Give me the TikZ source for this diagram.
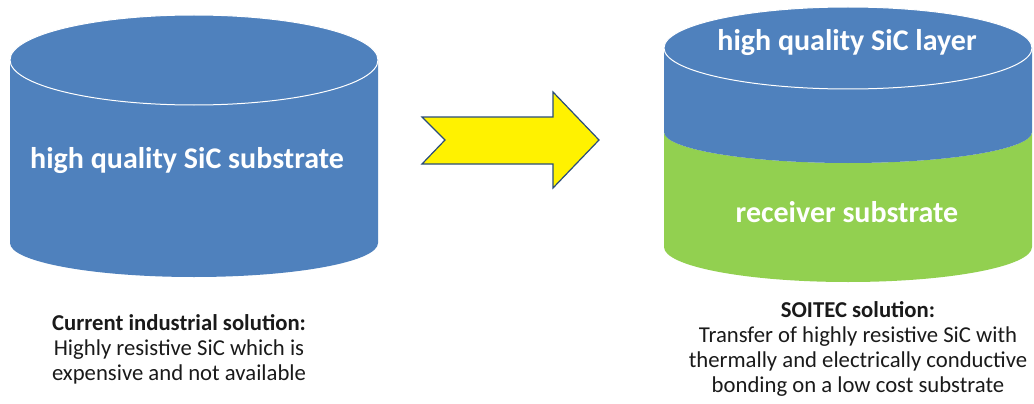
\documentclass[tikz,border=0pt]{standalone}
\usepackage{fontspec}
\setmainfont{Carlito}
\definecolor{sicblue}{HTML}{4F81BD}
\definecolor{recgreen}{HTML}{92D050}
\definecolor{arrowedge}{HTML}{2A4D7A}
\definecolor{txt}{HTML}{1A1A1A}
\begin{document}
\begin{tikzpicture}[x=1pt,y=-1pt,
  cyllabel/.style={text=white,font=\fontsize{30}{34}\selectfont\bfseries,inner sep=0pt},
  caption/.style={text=txt,font=\fontsize{22.7}{25}\selectfont,align=center,inner sep=0pt},
  topface/.style={draw=white,line width=1pt}]
\useasboundingbox (0,0) rectangle (1034,404);
\fill[white] (0,0) rectangle (1034,404);
% left cylinder
\fill[sicblue] (10,60) -- (10,243) arc[start angle=180,end angle=360,x radius=184pt,y radius=34pt] -- (378,60) -- cycle;
\filldraw[sicblue,topface] (194,60) ellipse[x radius=184pt,y radius=45pt];
\node[cyllabel] (l1) at (187,161) {high quality SiC substrate};
% arrow
\filldraw[fill=yellow,draw=arrowedge,line width=1.2pt,line join=miter]
  (422,117) -- (553,117) -- (553,92) -- (599,140) -- (553,188) -- (553,164) -- (422,164) -- (445,140) -- cycle;
% right cylinder
\fill[recgreen] (664,132) arc[start angle=180,end angle=360,x radius=184pt,y radius=31pt] -- (1032,247) arc[start angle=0,end angle=-180,x radius=184pt,y radius=35pt] -- cycle;
\fill[sicblue] (664,48) -- (664,132) arc[start angle=180,end angle=360,x radius=184pt,y radius=31pt] -- (1032,48) -- cycle;
\filldraw[sicblue,topface] (848,48) ellipse[x radius=184pt,y radius=41pt];
\node[cyllabel] (r1) at (847,43) {high quality SiC layer};
\node[cyllabel] (r2) at (847,212) {receiver substrate};
% captions
\node[caption] (c1) at (179,349) {\textbf{Current industrial solution:}\\Highly resistive SiC which is\\expensive and not available};
\node[caption] (c2) at (858,349) {\textbf{SOITEC solution:}\\Transfer of highly resistive SiC with\\thermally and electrically conductive\\bonding on a low cost substrate};
\end{tikzpicture}
\end{document}
